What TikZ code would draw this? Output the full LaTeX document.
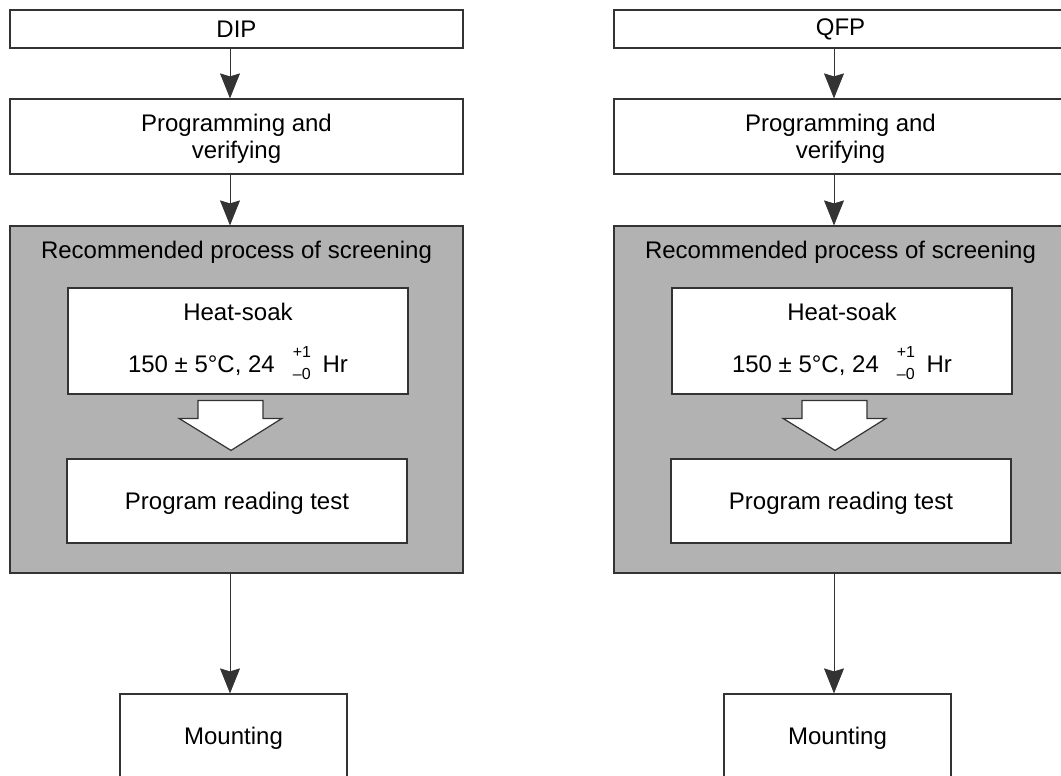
\documentclass[tikz,border=0pt]{standalone}
\usepackage{fontspec}
\setmainfont{Liberation Sans}
\usetikzlibrary{arrows.meta,positioning,calc}

% stacked tolerance of the soak time
\newcommand{\hourtol}{{\fontsize{16}{16}\selectfont\rlap{\raisebox{15pt}{+1}}\raisebox{-7pt}{–0}}}

\tikzset{
  stepbox/.style={draw=black!80, line width=1.2pt, fill=white, inner sep=0pt,
    align=center, minimum width=453pt},
  innerbox/.style={stepbox, minimum width=340pt},
  screenbox/.style={draw=black!80, line width=1.2pt, fill=black!30, inner sep=0pt,
    minimum width=453pt, minimum height=347pt},
  flow/.style={->, draw=black!80, line width=0.9pt},
  hollow/.style={draw=black!80, line width=1.2pt, fill=white, line join=miter}
}

\begin{document}
\begin{tikzpicture}[x=1pt, y=-1pt, font=\fontsize{24}{27}\selectfont,
    >={Stealth[length=25pt,width=20pt,inset=3pt]}]

    \useasboundingbox (0,0) rectangle (1061,776);
    \clip (0,0) rectangle (1061,776);

    \foreach \col/\dx/\pkg in {L/0/DIP, R/604/QFP}
    {
      \begin{scope}[xshift=\dx]
        % axis of the connectors
        \coordinate (ax\col) at (230,0);

        % package and programming steps
        \node[stepbox, minimum height=38pt] (pkg\col) at (236.5,29) {\pkg};
        \node[stepbox, minimum height=75pt, text depth=0pt] (prog\col) at (236.5,136.5)
          {Programming and\\verifying};

        % the screening block
        \node[screenbox] (screen\col) at (236.5,399.5) {};
        \node[anchor=base] (title\col) at (236.5,258) {Recommended process of screening};
        \node[innerbox, minimum height=106pt] (heat\col) at (238,341)
          {Heat-soak\\[25pt]150 ± 5°C, 24\hspace{18pt}\hourtol\hspace{12pt}Hr};
        \node[innerbox, minimum height=84pt, text depth=0pt] (read\col) at (237,501)
          {Program reading test};

        % mounting, cut by the lower edge
        \node[stepbox, minimum width=227pt, minimum height=84pt, text depth=0pt]
          (mount\col) at (233.5,736) {Mounting};

        % connectors
        \draw[flow] (pkg\col.south -| ax\col) -- (prog\col.north -| ax\col);
        \draw[flow] (prog\col.south -| ax\col) -- (screen\col.north -| ax\col);
        \draw[flow] (screen\col.south -| ax\col) -- (mount\col.north -| ax\col);

        % hollow arrow between the screening steps
        \coordinate (tip\col) at ($(read\col.north -| ax\col)+(1,-8)$);
        \draw[hollow] (tip\col) -- ++(-52,-32) -- ++(19,0) -- ++(0,-18)
          -- ++(65,0) -- ++(0,18) -- ++(19,0) -- cycle;
      \end{scope}
    }
  \end{tikzpicture}
\end{document}
